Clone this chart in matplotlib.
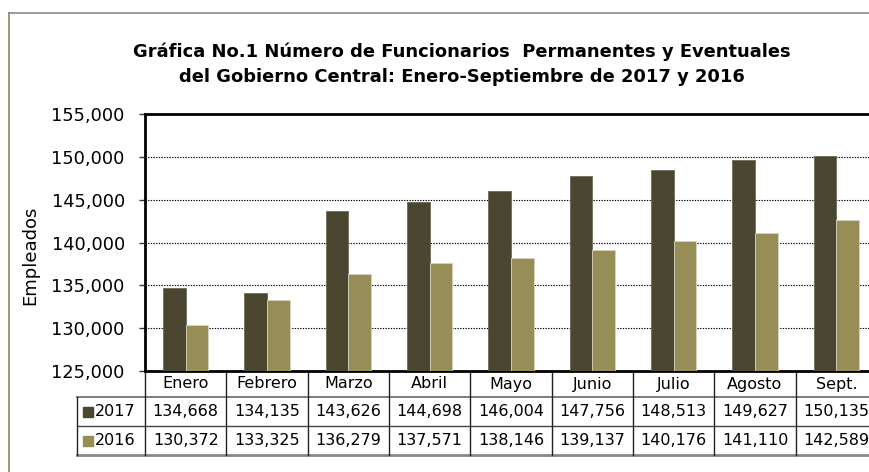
import matplotlib
matplotlib.use("Agg")
import matplotlib.pyplot as plt
import numpy as np

months = ["Enero", "Febrero", "Marzo", "Abril", "Mayo", "Junio", "Julio", "Agosto", "Sept."]
v2017 = [134668, 134135, 143626, 144698, 146004, 147756, 148513, 149627, 150135]
v2016 = [130372, 133325, 136279, 137571, 138146, 139137, 140176, 141110, 142589]
series_names = ["2017", "2016"]
yticks = [125000, 130000, 135000, 140000, 145000, 150000, 155000]

c2017 = "#4b4630"
c2016 = "#978d56"

plt.rcParams['font.family'] = ['DejaVu Sans']

W, H = 870, 472
fig = plt.figure(figsize=(W / 100, H / 100), dpi=100)

# outer chart border (cropped on right/bottom)
fig.add_artist(plt.Line2D([9.5 / W, 9.5 / W], [0, 1 - 13 / H], color="#8c8a50", lw=1.2))
fig.add_artist(plt.Line2D([9.5 / W, 1], [1 - 13 / H, 1 - 13 / H], color="#8a8a8a", lw=1.2))

left, right, top, bottom = 145, 877, 114, 371
ax = fig.add_axes([left / W, 1 - bottom / H, (right - left) / W, (bottom - top) / H])

x = np.arange(len(months))
bw = 0.28
ax.bar(x - bw / 2, v2017, bw, color=c2017, edgecolor="#6e6a58", linewidth=0.6, zorder=3)
ax.bar(x + bw / 2, v2016, bw, color=c2016, edgecolor="#d8d4c0", linewidth=0.6, zorder=3)

ax.set_xlim(-0.5, len(months) - 0.5)
ax.set_ylim(yticks[0], yticks[-1])
ax.set_yticks(yticks)
ax.set_yticklabels([f"{t:,}" for t in yticks], fontsize=12.8)
ax.tick_params(axis='y', direction='out', length=4.5, width=1, pad=10, color="#333333")
ax.set_xticks([])
for t in yticks[1:-1]:
    ax.axhline(t, color="black", lw=0.8, ls=(0, (1.2, 1.2)), zorder=1)
for s in ["left", "top", "bottom"]:
    ax.spines[s].set_linewidth(2)
    ax.spines[s].set_color("black")
ax.spines["right"].set_visible(False)

# ylabel
fig.text(30 / W, 1 - 255 / H, "Empleados", rotation=90, ha="center", va="center", fontsize=13)

# title
fig.text(462 / W, 1 - 52 / H, "Gráfica No.1 Número de Funcionarios  Permanentes y Eventuales",
         ha="center", va="center", fontsize=12.9, fontweight="bold")
fig.text(462 / W, 1 - 77 / H, "del Gobierno Central: Enero-Septiembre de 2017 y 2016",
         ha="center", va="center", fontsize=12.9, fontweight="bold")

# data table drawn below the axes
tr = ax.get_xaxis_transform()
ph = bottom - top
def yy(px):
    return -(px - bottom) / ph

y_h = yy(397)
y_r1 = yy(426)
y_r2 = yy(455)
x_leg = -0.5 - (left - 76.7) / ((right - left) / len(months))
n = len(months)

# horizontal lines
ax.plot([x_leg, n - 0.5], [y_h, y_h], transform=tr, clip_on=False, color="#666666", lw=1.2)
ax.plot([x_leg, n - 0.5], [y_r1, y_r1], transform=tr, clip_on=False, color="#444444", lw=1.0)
ax.plot([x_leg, n - 0.5], [y_r2, y_r2], transform=tr, clip_on=False, color="#888888", lw=2)
# vertical lines
ax.plot([x_leg, x_leg], [y_h, y_r2], transform=tr, clip_on=False, color="#222222", lw=1.0)
for i in range(n + 1):
    b = i - 0.5
    ax.plot([b, b], [0, y_r2], transform=tr, clip_on=False, color="#222222", lw=1.0)

fs_tab = 11.5
for i, m in enumerate(months):
    ax.text(i, (0 + y_h) / 2, m, transform=tr, ha="center", va="center", fontsize=fs_tab, clip_on=False)
    ax.text(i, (y_h + y_r1) / 2, f"{v2017[i]:,}", transform=tr, ha="center", va="center",
            fontsize=fs_tab, clip_on=False)
    ax.text(i, (y_r1 + y_r2) / 2, f"{v2016[i]:,}", transform=tr, ha="center", va="center",
            fontsize=fs_tab, clip_on=False)

# legend keys
for name, col, (ya, yb) in [(series_names[0], c2017, (y_h, y_r1)), (series_names[1], c2016, (y_r1, y_r2))]:
    yc = (ya + yb) / 2
    sq_px = 10
    ypx = bottom + (-(yc) * ph)
    fig.add_artist(plt.Rectangle((83 / W, 1 - ypx / H - sq_px / 2 / H),
                                 sq_px / W, sq_px / H, color=col))
    fig.text(95 / W, 1 - ypx / H, name, ha="left", va="center", fontsize=fs_tab)

fig.savefig("out.png", dpi=100)
